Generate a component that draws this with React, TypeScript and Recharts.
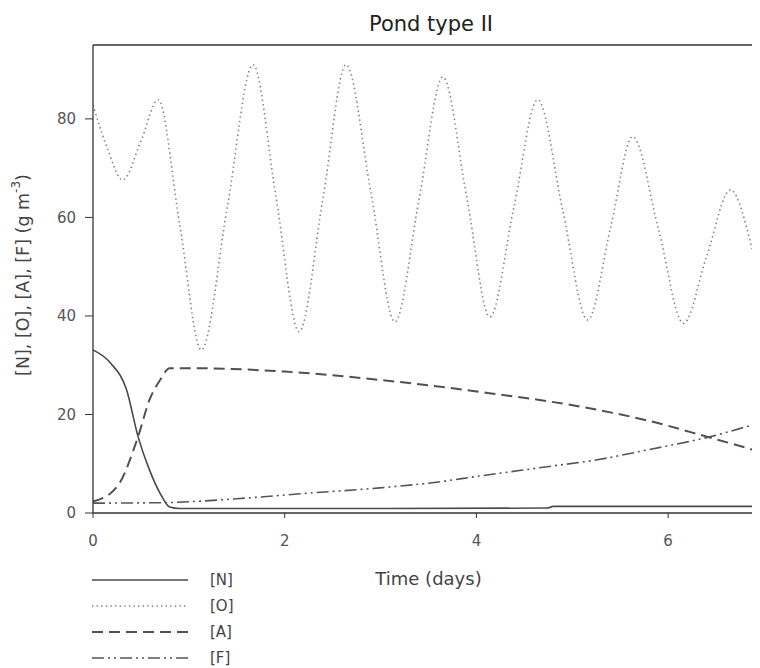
import React from 'react';
import { LineChart, Line, XAxis, YAxis, Legend, Customized, ReferenceLine } from 'recharts';

// Time (days) / concentration (g m^-3) pairs
const nitrogen: [number, number][] = [
  [0, 33.1], [0.18, 30.5], [0.35, 25], [0.47, 15.5], [0.59, 8.7], [0.7, 4],
  [0.8, 1.2], [0.9, 0.9], [2, 0.9], [4.74, 1.0], [4.8, 1.35], [7, 1.35],
];
const oxygen: [number, number][] = [
  [0, 82.8], [0.15, 74], [0.31, 67.6], [0.5, 75.5], [0.68, 83.9], [0.905, 58.5],
  [1.13, 33.1], [1.4, 62], [1.67, 91], [1.91, 64], [2.15, 36.8], [2.4, 64],
  [2.64, 91], [2.9, 65], [3.15, 38.8], [3.4, 63.5], [3.65, 88.5], [3.9, 64],
  [4.14, 39.8], [4.39, 62], [4.64, 83.9], [4.9, 61.5], [5.16, 39.2], [5.4, 58],
  [5.63, 76.4], [5.9, 57.5], [6.16, 38.5], [6.4, 52], [6.65, 65.6], [6.9, 51.8],
  [7, 43.7],
];
const algae: [number, number][] = [
  [0, 2.3], [0.25, 5.3], [0.47, 15.5], [0.59, 23], [0.7, 27], [0.8, 29.4],
  [1.0, 29.4], [2.0, 28.7], [3.0, 27], [4.03, 24.6], [5.08, 21.6], [5.78, 18.8],
  [6.42, 15.4], [7, 12.2],
];
const fish: [number, number][] = [
  [0, 2.0], [0.73, 2.1], [1.5, 2.9], [1.91, 3.5], [2.16, 3.9], [2.99, 5.1],
  [3.52, 6.1], [4.03, 7.5], [4.74, 9.4], [5.26, 10.8], [5.78, 12.8], [6.42, 15.4],
  [7, 18.6],
];
const xTicks = [0, 2, 4, 6];
const yTicks = [0, 20, 40, 60, 80];
const seriesNames = ['[N]', '[O]', '[A]', '[F]'];
const title = 'Pond type II';
const xLabel = 'Time (days)';

const toPts = (arr: [number, number][]) => arr.map(([t, v]) => ({ t, v }));

const FONT = '"DejaVu Sans", "Open Sans", sans-serif';
const styles = [
  { stroke: '#4a4a4a', dash: undefined as string | undefined, width: 1.6 },
  { stroke: '#808080', dash: '1.4 3.2', width: 1.6 },
  { stroke: '#505050', dash: '11 6', width: 2 },
  { stroke: '#555555', dash: '12 4 2 4 2 4', width: 1.6 },
];

const renderLegend = () => (
  <svg width={260} height={108} style={{ display: 'block' }}>
    {seriesNames.map((name, i) => {
      const y = [16, 42, 68, 94][i];
      return (
        <g key={name}>
          <line x1={84} x2={180} y1={y} y2={y} stroke={styles[i].stroke}
            strokeWidth={styles[i].width} strokeDasharray={styles[i].dash} />
          <text x={202} y={y} dominantBaseline="central" fontFamily={FONT}
            fontSize={15} fill="#444">{name}</text>
        </g>
      );
    })}
  </svg>
);

const YLabel = () => (
  <text x={15} y={267} transform="rotate(-90 15 267)" textAnchor="middle"
    dominantBaseline="central" fontFamily={FONT} fontSize={17.5} fill="#444">
    [N], [O], [A], [F] (g m<tspan dy={-7} fontSize={12}>-3</tspan><tspan dy={7}>)</tspan>
  </text>
);

const Title = () => (
  <text x={423} y={16} textAnchor="middle" dominantBaseline="central"
    fontFamily={FONT} fontSize={21} fill="#222">{title}</text>
);

export default function App() {
  const data = [nitrogen, oxygen, algae, fish].map(toPts);
  return (
    <div style={{ width: 752, height: 660, overflow: 'hidden', position: 'relative' }}>
      <LineChart width={776} height={660}
        margin={{ top: 37, right: 20, left: 0, bottom: 80 }}>
        <XAxis xAxisId="main" dataKey="t" type="number" domain={[0, 7]} ticks={xTicks}
          allowDataOverflow height={75} tickSize={5} tickMargin={17}
          axisLine={{ stroke: '#333', strokeWidth: 1.3 }} tickLine={{ stroke: '#333' }}
          tick={{ fontFamily: FONT, fontSize: 15, fill: '#555' }}
          label={{ value: xLabel, position: 'insideBottom', offset: 3,
            style: { fontFamily: FONT, fontSize: 18, fill: '#444' } }} />
        <YAxis dataKey="v" type="number" domain={[0, 95]} ticks={yTicks} width={85}
          allowDataOverflow tickSize={8} tickMargin={9}
          axisLine={{ stroke: '#333', strokeWidth: 1.3 }} tickLine={{ stroke: '#333' }}
          tick={{ fontFamily: FONT, fontSize: 15, fill: '#555' }} />
        <ReferenceLine xAxisId="main" y={95} stroke="#333" strokeWidth={1.5} />
        {data.map((d, i) => (
          <Line key={seriesNames[i]} xAxisId="main" data={d} dataKey="v" name={seriesNames[i]}
            type="monotone" stroke={styles[i].stroke} strokeWidth={styles[i].width}
            strokeDasharray={styles[i].dash} dot={false} activeDot={false}
            isAnimationActive={false} />
        ))}
        <Legend layout="vertical" align="center" verticalAlign="middle"
          content={renderLegend}
          wrapperStyle={{ left: 0, top: 556, width: 260, height: 108 }} />
        <Customized component={YLabel} />
        <Customized component={Title} />
      </LineChart>
    </div>
  );
}
